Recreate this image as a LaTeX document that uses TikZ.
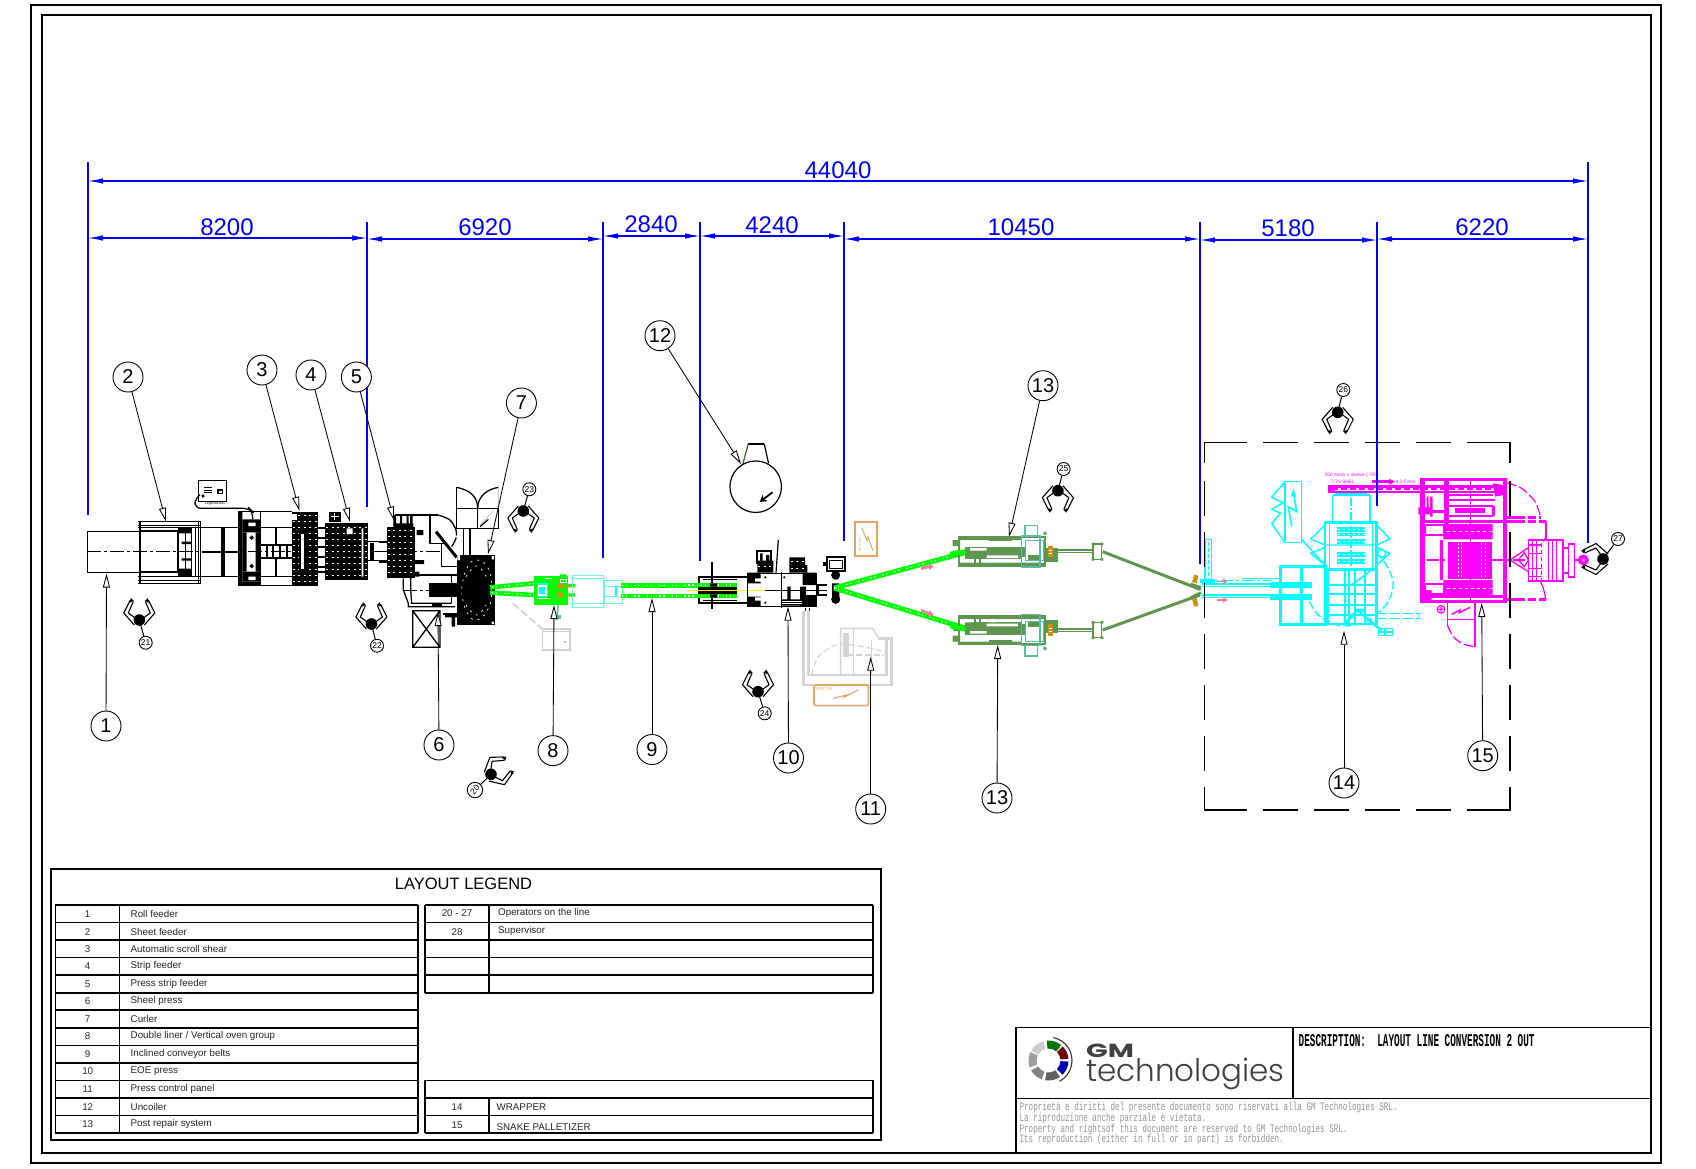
\documentclass[tikz,border=0pt]{standalone}
\usepackage{fontspec}
\setmainfont{Liberation Sans}
\newfontfamily\cadfont{Liberation Mono}
\newfontfamily\logofont{Poppins}
\newfontfamily\logolight{Poppins Light}
\usetikzlibrary{arrows.meta,calc}
\definecolor{dimblue}{RGB}{0,0,255}
\definecolor{lgreen}{RGB}{0,255,0}
\definecolor{ogreen}{RGB}{94,150,80}
\definecolor{tealc}{RGB}{95,185,165}
\definecolor{cyanc}{RGB}{0,255,255}
\definecolor{magc}{RGB}{255,0,255}
\definecolor{aquac}{RGB}{110,250,205}
\definecolor{orangec}{RGB}{225,165,100}
\definecolor{goldc}{RGB}{205,145,20}
\definecolor{pinkc}{RGB}{250,120,150}
\definecolor{panelg}{RGB}{212,212,212}
\tikzset{
  z/.style n args={2}{shift={(#1,#2)},x=0.33333pt,y=-0.33333pt},
  balloon/.style={circle,draw=black,fill=white,line width=0.9pt,minimum size=30pt,inner sep=0pt,font=\fontsize{20}{20}\selectfont},
  opballoon/.style={circle,draw=black,fill=white,line width=0.9pt,minimum size=13pt,inner sep=0pt,font=\fontsize{8.5}{8.5}\selectfont},
  leader/.style={draw=black,line width=0.85pt,-{Triangle[fill=white,length=14pt,width=7pt,line width=0.85pt]}},
  dimarrow/.style={draw=dimblue,line width=1.1pt,{Latex[length=15pt,width=5.5pt]}-{Latex[length=15pt,width=5.5pt]}},
  dimext/.style={draw=dimblue,line width=1.1pt},
  dimtext/.style={text=dimblue,font=\fontsize{24}{24}\selectfont,inner sep=0pt},
  tline/.style={draw=black,line width=1.6pt},
  ttext/.style={font=\fontsize{9.8}{9.8}\selectfont,inner sep=0pt,anchor=west,text=black!85},
  tnum/.style={font=\fontsize{9.8}{9.8}\selectfont,inner sep=0pt,text=black!85},
  blk/.style={draw=black,line width=1pt},
  blkt/.style={draw=black,line width=2pt},
  slot/.style={draw=white,line width=0.9pt,dash pattern=on 2pt off 3.5pt},
  centerl/.style={line width=1pt,dash pattern=on 14pt off 3pt on 3pt off 3pt},
  belt/.style={draw=lgreen,line width=4.6pt},
  beltdots/.style={draw=white,line width=1.2pt,dash pattern=on 1.5pt off 2.5pt on 1.5pt off 7pt},
  cy/.style={draw=cyanc,line width=1.3pt},
  cyt/.style={draw=cyanc,line width=2.6pt},
  mg/.style={draw=magc,line width=1.1pt},
  mgt/.style={draw=magc,line width=2.4pt},
  og/.style={draw=ogreen,line width=1.2pt},
  ogt/.style={draw=ogreen,line width=3pt},
  oper/.style={draw=black,line width=1.1pt,line join=round},
}
\newcommand{\opfigure}[3]{%
 \begin{scope}[shift={(#1,#2)},rotate=#3]
  \fill[black] (0,0) circle (5.8pt);
  \draw[oper] (-5,5) -- (-15.5,-7) -- (-9,-20);
  \draw[oper] (-4,-2) -- (-11,-7) -- (-6,-18.5);
  \draw[oper] (5,5) -- (15.5,-7) -- (9,-20);
  \draw[oper] (4,-2) -- (11,-7) -- (6,-18.5);
  \fill[black] (-8.5,-22) -- (-5.5,-19) -- (-9.5,-17.5) -- cycle;
  \fill[black] (8.5,-22) -- (5.5,-19) -- (9.5,-17.5) -- cycle;
 \end{scope}}
\newcommand{\densebox}[4]{%
 \fill[black] (#1,#2) rectangle (#3,#4);
 \pgfmathsetmacro{\dya}{#2+12}\pgfmathsetmacro{\dyb}{#2+30}\pgfmathsetmacro{\dyc}{#4-6}
 \foreach \yy in {\dya,\dyb,...,\dyc} \draw[slot] (#1+3,\yy) -- (#3-3,\yy);}
\begin{document}
\begin{tikzpicture}[x=1pt,y=-1pt,line cap=butt]
\useasboundingbox (0,0) rectangle (1696,1168);
\fill[white] (0,0) rectangle (1696,1168);
\draw[black,line width=1.8pt] (31,5) rectangle (1661,1163);
\draw[black,line width=1.6pt] (42,15) rectangle (1651,1153);

\begin{scope}[z={80}{470}]
 \draw[blk] (22,183) rectangle (178,306);
 \foreach \yy in {155,165,172,320,330,340} \draw[blk] (175,\yy) -- (362,\yy);
 \draw[blkt] (180,155) -- (180,340);
 \draw[blkt] (181,183) rectangle (295,306);
 \draw[blk] (295,172) rectangle (335,318);
 \draw[blk] (315,172) -- (315,318);
 \draw[blk] (335,172) -- (335,318) (347,172) -- (347,318);
 \draw[blk] (355,155) -- (355,340) (362,155) -- (362,340);
 \fill[black] (295,172) rectangle (335,190) (295,296) rectangle (335,318);
 \fill[black] (305,215) rectangle (335,222) (305,265) rectangle (335,272);
 \draw[blk] (362,172) -- (485,172) (362,318) -- (485,318);
 \draw[blkt] (425,172) -- (425,318) (433,172) -- (433,318);
 \draw[blk] (475,125) rectangle (540,345);
 \fill[black] (475,125) rectangle (487,345) (475,335) rectangle (540,347);
 \fill[black] (487,148) rectangle (540,187) (487,305) rectangle (540,335);
 \fill[white] (505,158) rectangle (527,168) (505,320) rectangle (527,330);
 \fill[black] (487,187) rectangle (500,305) (527,187) rectangle (540,305);
 \fill[black] (508,203) -- (515,196) -- (522,203) -- (515,210) -- cycle (508,288) -- (515,281) -- (522,288) -- (515,295) -- cycle;
 \draw[blk] (475,125) -- (635,125);
 \draw[blk] (540,172) -- (635,172) (540,345) -- (635,345);
 \draw[blkt] (542,225) -- (635,225) (542,265) -- (635,265);
 \draw[blkt] (587,172) -- (587,225) (587,265) -- (587,318);
 \draw[blk] (540,318) -- (635,318);
 \foreach \xx in {560,580,600,620} \draw[blkt] (\xx,225) -- (\xx,265);
 \draw[black,centerl] (22,245) -- (635,245);
 \draw[blkt] (365,245) -- (480,245);
 \densebox{635}{125}{715}{348}
 \fill[white] (632,133) rectangle (652,150);
 \fill[white] (662,190) rectangle (672,300);
 \draw[blkt] (660,190) rectangle (674,300);
 \foreach \yy in {175,205,232,262,290,305} \draw[blkt] (715,\yy) -- (738,\yy);
 \densebox{735}{160}{865}{330}
 \fill[black] (747,125) rectangle (782,155);
 \draw[white,line width=1.4pt] (764,130) -- (764,150) (752,140) -- (776,140);
 \fill[white] (800,175) rectangle (818,192) (845,175) rectangle (850,320);
 \draw[blk] (865,215) -- (920,215) (865,272) -- (920,272);
 \draw[blkt] (872,222) rectangle (878,268);
 \draw[black,centerl] (878,245) -- (920,245);
 \draw[blk,line width=1.2pt] (355,32) rectangle (440,95);
 \draw[black,line width=1.2pt,line join=round,rounded corners=6pt] (355,78) -- (345,85) -- (345,115) -- (508,115) -- (518,125) -- (518,148);
 \draw[black,line width=1pt] (372,52) -- (396,52) (372,60) -- (396,60) (372,66) -- (396,66);
 \draw[blk,line width=1.2pt] (414,60) rectangle (428,70);
 \fill[black] (369,72) -- (374,78) -- (369,84) -- (364,78) -- cycle;
 \node[font=\fontsize{3.5}{3.5}\selectfont,inner sep=0pt] (boxlabel) at (405,102) {Legenda box};
\end{scope}

\begin{scope}[z={380}{480}]
 \densebox{20}{140}{105}{295}
 \fill[black] (40,130) rectangle (100,145) (110,150) rectangle (130,165) (105,240) rectangle (132,252) (105,275) rectangle (118,290);
 \fill[black] (40,105) rectangle (48,135) (60,105) rectangle (66,135) (80,105) rectangle (86,135) (90,105) rectangle (98,135);
 \draw[blkt] (-2,185) -- (20,185) (-2,245) -- (20,245);
 \draw[blk,line width=1.3pt] (45,105) -- (175,105);
 \draw[black,line width=1.3pt,dash pattern=on 30pt off 2pt] plot[smooth] coordinates {(175,105) (210,120) (228,150) (228,175) (215,200)};
 \draw[blk,line width=1.3pt] (150,105) -- (150,190) -- (200,190);
 \draw[black,line width=3pt] (168,155) -- (230,232);
 \draw[blk,line width=1.3pt] (185,190) -- (185,260) -- (230,260);
 \draw[black,centerl] (0,215) -- (185,215);
 \draw[blk,line width=1.3pt] (100,285) -- (230,285);
 \draw[black,line width=1.3pt] (70,295) -- (70,330) -- (85,370) -- (85,380) -- (225,380);
 \draw[black,line width=1.3pt] (92,285) -- (92,330) -- (95,370) -- (215,370);
 \draw[black,centerl] (70,330) -- (150,330);
 \fill[black] (148,308) rectangle (240,350);
 \draw[blk,line width=1.3pt] (215,285) -- (215,370);
 \fill[black] (155,368) rectangle (185,382);
 \draw[blk,line width=1.3pt] (98,392) rectangle (180,502) (98,392) -- (180,502) (180,392) -- (98,502);
 \draw[blk,line width=1.3pt] (190,402) -- (232,402);
 \fill[black] (195,402) rectangle (232,412) (215,412) rectangle (225,440);
 \fill[black] (232,225) rectangle (345,435);
 \fill[white] (232,225) rectangle (240,240) (335,228) rectangle (342,238) (335,425) rectangle (342,432);
 \draw[white,line width=0.7pt,dash pattern=on 2pt off 5pt] plot[smooth,tension=0.8] coordinates {(245,325) (260,265) (290,240) (325,265) (335,325) (325,385) (290,420) (260,395) (245,340)};
 \draw[white,line width=0.7pt,dash pattern=on 2pt off 5pt] plot[smooth,tension=0.8] coordinates {(258,290) (290,258) (318,290)};
 \draw[white,line width=0.7pt,dash pattern=on 2pt off 5pt] plot[smooth,tension=0.8] coordinates {(258,375) (290,405) (318,375)};
 \draw[blk,line width=1.3pt] (230,85) rectangle (355,145);
 \draw[blk,line width=1.3pt] (293,85) -- (293,145) (230,22) -- (230,85);
 \draw[blk,line width=1.3pt] (230,22) .. controls (270,30) and (293,50) .. (293,85);
 \draw[blk,line width=1.3pt] (355,22) .. controls (320,28) and (293,50) .. (293,85);
 \draw[draw=black!20,line width=1pt] (355,25) -- (355,85) (300,135) -- (340,92);
 \draw[blk,line width=1.2pt] (300,140) -- (325,118);
 \draw[blk,line width=1.2pt] (250,145) -- (250,225) (270,145) -- (270,225);
 \draw[draw=black!18,line width=1.6pt,dash pattern=on 8pt off 3pt] (398,370) -- (487,447);
 \draw[draw=black!18,line width=1.4pt] (487,447) rectangle (570,510) (487,455) -- (570,455);
 \fill[black!25] (552,482) rectangle (558,490);
 \draw[belt] (330,322) -- (462,310);
 \draw[belt] (330,338) -- (462,345);
 \draw[beltdots] (335,322) -- (462,310);
 \draw[beltdots] (335,338) -- (462,345);
 \fill[lgreen] (462,288) rectangle (565,375);
 \fill[lgreen] (565,312) rectangle (585,322) (565,340) rectangle (585,350) (540,283) rectangle (560,290);
 \fill[cyanc] (470,310) rectangle (505,352);
 \draw[white,line width=1.3pt] (476,318) rectangle (498,345);
 \draw[white,line width=1pt] (495,295) -- (515,295) (540,298) rectangle (558,308) (470,355) -- (510,355);
 \fill[goldc] (540,318) circle (3.2pt) (540,345) circle (3.2pt);
 \fill[orange] (553,318) circle (1.6pt) (567,318) circle (1.6pt);
 \fill[red] (508,352) circle (0.8pt);
 \draw[draw=tealc,line width=1.5pt] (535,375) -- (530,420);
 \fill[tealc] (522,405) rectangle (542,418);
 \draw[draw=aquac,line width=1pt] (578,285) rectangle (670,381) (578,296) -- (670,296) (578,370) -- (670,370);
 \draw[draw=aquac,line width=1pt] (672,300) rectangle (728,370) (672,320) -- (728,320) (672,348) -- (728,348);
 \fill[cyanc] (705,318) rectangle (711,348);
 \draw[belt] (722,316) -- (1071,316);
 \draw[belt] (722,348) -- (1071,348);
 \draw[beltdots] (725,316) -- (1071,316);
 \draw[beltdots] (725,348) -- (1071,348);
\end{scope}

\begin{scope}[z={690}{540}]
 \draw[blkt] (28,110) rectangle (170,190);
 \fill[black] (28,128) rectangle (140,175);
 \draw[blk] (40,118) -- (140,118) (40,182) -- (140,182);
 \draw[blk,line width=1.2pt] (66,65) -- (66,207);
 \draw[belt] (-10,135) -- (140,135);
 \draw[belt] (-10,168) -- (140,168);
 \draw[beltdots] (-5,135) -- (140,135);
 \draw[beltdots] (-5,168) -- (140,168);
 \fill[black] (60,130) rectangle (82,140) (60,163) rectangle (82,173);
 \draw[draw=yellow,line width=1.3pt] (-5,151) -- (225,151);
 \fill[white] (140,115) rectangle (170,185);
 \draw[draw=yellow,line width=1.3pt] (140,151) -- (225,151);
 \draw[blk,line width=1.3pt] (172,100) rectangle (380,200);
 \draw[blk,line width=1.3pt] (225,151) -- (410,151);
 \fill[black] (172,98) rectangle (212,130) (172,170) rectangle (212,200) (338,98) rectangle (378,135) (338,165) rectangle (378,200);
 \fill[white] (195,115) rectangle (215,125) (195,172) rectangle (215,182);
 \draw[blk,line width=1.2pt] (275,95) -- (275,205);
 \fill[black] (292,140) rectangle (302,180) (330,140) rectangle (348,200) (275,178) rectangle (340,197);
 \draw[white,line width=0.8pt] (277,184) -- (335,184) (277,190) -- (335,190);
 \draw[blk] (345,205) -- (345,212) (358,205) -- (358,212);
 \fill[black] (226,112) circle (1.2pt) (226,188) circle (1.2pt) (283,112) circle (1.2pt);
 \fill[black] (202,62) rectangle (250,98) (298,75) rectangle (352,98);
 \draw[blkt] (202,32) rectangle (242,70);
 \fill[black] (210,40) rectangle (218,70) (228,45) rectangle (238,70) (298,52) rectangle (345,80);
 \draw[slot] (205,80) -- (248,80);
 \draw[slot] (302,65) -- (342,65);
 \draw[slot] (302,85) -- (350,85);
 \draw[blk,line width=1.3pt] (380,135) -- (412,135) (380,165) -- (412,165) (384,135) -- (384,165);
 \draw[blkt] (410,52) rectangle (465,92);
 \draw[blk] (418,60) rectangle (458,84);
 \fill[black] (398,65) rectangle (410,78);
 \fill[black] (431,92) rectangle (444,118) (426,130) rectangle (448,185);
 \fill[black] (437,105) circle (4.5pt) (437,178) circle (4.5pt);
 \draw[blk,line width=1.2pt] (265,0) -- (258,98);
\end{scope}

\begin{scope}[shift={(600,300)},x=0.35714pt,y=-0.33333pt]
 \draw[draw=black,line width=1.2pt] (460,432) -- (472,490);
 \draw[draw=black,line width=1.2pt] (415,432) -- (460,432);
 \draw[draw=ogreen!60!black,line width=1.2pt] (415,432) -- (400,492);
\end{scope}
\node[circle,draw=black,line width=1.2pt,minimum size=51.5pt,inner sep=0pt] (coil) at (755.7,486.7) {};
\draw[black,line width=1.8pt,-{Stealth[length=7pt,width=8pt]}] (772.5,492.3) -- (759.6,502);

\coordinate (cvs) at (834,588);
\coordinate (cvt) at (966,552.3);
\coordinate (cvb) at (966,628.3);
\draw[belt,line width=5pt] (cvs) -- (cvt);
\draw[belt,line width=5pt] (cvs) -- (cvb);
\draw[beltdots] (cvs) -- (cvt);
\draw[beltdots] (cvs) -- (cvb);
\fill[pinkc] (921,566.5) -- (929,565.5) -- (928,563.5) -- (934,566.5) -- (929,570) -- (929,568) -- (921,570) -- cycle;
\fill[pinkc] (921,609) -- (929,612) -- (929,610) -- (934,615) -- (928,616) -- (928,614) -- (921,611.5) -- cycle;
\draw[draw=orangec,line width=1.5pt] (855,522) rectangle (877,556);
\draw[draw=orangec,line width=0.9pt] (862,528) -- (867,541) -- (868,537) -- (873,551);
\node[font=\fontsize{3.5}{3.5}\selectfont,text=orangec,rotate=90,inner sep=0pt] (orA) at (860,545) {ROX OK};

\begin{scope}[z={690}{540}]
 \draw[draw=panelg,line width=2.4pt] (340,212) -- (340,435) -- (605,435) -- (605,295) -- (565,295);
 \draw[draw=panelg,line width=2.4pt] (355,212) -- (355,405) -- (590,405) -- (590,300);
 \draw[draw=panelg,line width=1.4pt] (452,265) -- (548,265) -- (570,300) (452,265) -- (452,405);
 \draw[draw=panelg,line width=1.2pt] (490,265) -- (490,405) (545,300) -- (545,405);
 \fill[panelg] (458,280) rectangle (478,350);
 \draw[draw=panelg,line width=1.2pt,dash pattern=on 6pt off 3pt] plot[smooth] coordinates {(365,405) (385,350) (440,315) (520,320) (590,338)};
 \draw[draw=panelg,line width=1.2pt,dash pattern=on 6pt off 3pt] (470,345) -- (580,345);
 \draw[draw=orangec,line width=1.6pt,rounded corners=2pt] (372,435) rectangle (535,497);
 \draw[draw=orangec,line width=1.2pt] (430,475) -- (470,465) -- (465,470) -- (505,450);
 \node[font=\fontsize{4.5}{4.5}\selectfont,text=orangec,inner sep=0pt] (orB) at (403,446) {ROX OK};
\end{scope}

\begin{scope}[z={950}{520}]
 \foreach \mirror in {0,1}{
  \pgfmathsetmacro{\sgn}{\mirror==0 ? 1 : -1}
  \pgfmathsetmacro{\off}{\mirror==0 ? 0 : 425}
  \begin{scope}[shift={(0,\off)},yscale=\sgn]
   \draw[og,line width=1.8pt] (28,52) rectangle (285,137);
   \fill[ogreen] (8,60) rectangle (30,78) (10,92) rectangle (30,110);
   \fill[ogreen] (45,80) rectangle (215,118);
   \fill[ogreen] (28,52) rectangle (215,60) (28,128) rectangle (285,137);
   \fill[white] (60,84) rectangle (110,92) (110,106) rectangle (205,114) (95,122) rectangle (110,127);
   \fill[ogreen] (205,80) rectangle (225,112);
   \fill[white] (38,62) rectangle (115,70) (125,62) rectangle (200,70) (40,118) rectangle (70,126) (120,118) rectangle (135,126);
   \draw[og] (118,52) rectangle (185,62);
   \draw[og,line width=1.4pt] (75,100) rectangle (90,137);
   \fill[ogreen] (235,105) rectangle (270,120);
   \fill[ogreen] (285,85) rectangle (325,125);
   \draw[draw=tealc,line width=1.4pt] (215,48) rectangle (270,141);
   \draw[draw=tealc,line width=1pt] (225,62) rectangle (280,122);
   \draw[draw=tealc,line width=1.3pt] (225,17) rectangle (262,48);
   \fill[tealc] (285,40) circle (2pt);
   \fill[goldc] (293,78) rectangle (310,112);
   \draw[white,line width=0.6pt] (296,90) -- (307,90) (296,100) -- (307,100);
   \draw[draw=ogreen,line width=1.3pt] (325,90) -- (425,90) (325,98) -- (425,98);
   \draw[og,line width=1.5pt] (429,72) rectangle (455,118);
   \fill[ogreen] (425,68) rectangle (433,76) (452,68) rectangle (460,76) (425,114) rectangle (433,122) (452,114) rectangle (460,122);
  \end{scope}}
 \draw[ogt] (458,95) -- (750,208);
 \draw[ogt] (458,330) -- (750,225);
 \fill[goldc] (733,163) -- (745,168) -- (740,190) -- (726,186) -- cycle;
 \fill[goldc] (726,238) -- (740,234) -- (745,258) -- (733,260) -- cycle;
 \fill[ogreen] (722,188) -- (752,198) -- (755,210) -- (722,200) -- cycle;
 \fill[ogreen] (722,228) -- (752,214) -- (755,222) -- (722,238) -- cycle;
 \fill[lgreen] (0,95) -- (45,88) -- (48,100) -- (0,113) -- cycle;
 \fill[lgreen] (0,308) -- (48,325) -- (45,335) -- (0,325) -- cycle;
\end{scope}

\begin{scope}[z={1270}{470}]
 \draw[cy,line width=1.4pt,line join=round] (45,35) -- (95,35) -- (95,218) -- (45,218) -- cycle;
 \draw[cy,line width=1.4pt,line join=round] (45,35) -- (5,82) -- (40,98) -- (5,118) -- (32,130) -- (5,160) -- (45,218);
 \draw[cy,line width=1.6pt] (65,170) -- (55,110) -- (80,125) -- (70,65);
 \fill[cyanc] (70,55) -- (62,80) -- (78,80) -- cycle;
 \draw[cy,line width=1.4pt] (95,208) -- (165,285);
 \draw[cyt,line width=1.6pt] (188,75) -- (188,155) (300,75) -- (300,155) (188,75) -- (300,75);
 \draw[cyanc,line width=3pt] (195,68) -- (292,68);
 \draw[cy,dash pattern=on 8pt off 2pt on 2pt off 2pt] (243,85) -- (243,300);
 \draw[cyt] (165,157) rectangle (320,298);
 \draw[cy,line width=1.4pt] (178,157) -- (178,298) (308,157) -- (308,298);
 \draw[cy,line width=1.4pt,line join=round] (165,165) -- (122,207) -- (165,225) -- (320,225) -- (360,207) -- (320,165);
 \draw[cy,line width=1.4pt,line join=round] (165,232) -- (122,250) -- (165,285);
 \draw[cy,line width=1.4pt,line join=round] (320,232) -- (360,250) -- (320,285);
 \draw[cy] (335,250) circle (4pt);
 \foreach \ya/\yb in {172/185,190/198,208/222,247/260,268/282}{
   \fill[cyanc] (200,\ya) rectangle (285,\yb);
   \draw[white,line width=0.7pt,dash pattern=on 2pt off 3pt] (205,{(\ya+\yb)/2}) -- (285,{(\ya+\yb)/2});}
 \draw[cyt,line width=3pt] (32,290) rectangle (165,462);
 \draw[cyt,line width=3pt] (95,290) -- (95,462);
 \draw[cyanc,line width=4.5pt] (170,295) -- (170,465);
 \draw[cyt] (165,297) -- (320,297) (320,297) -- (320,465) (32,462) -- (320,462);
 \foreach \yy in {345,372,405,435} \draw[cyanc,line width=2.8pt] (165,\yy) -- (320,\yy);
 \foreach \xx in {225,238,255,285} \draw[cyanc,line width=2.2pt] (\xx,297) -- (\xx,462);
 \draw[cyanc,line width=3pt] (0,340) -- (125,340) (0,350) -- (125,350) (0,377) -- (125,377) (0,385) -- (125,385);
 \draw[cyanc,line width=1.4pt] (-85,325) -- (35,325);
 \draw[cy,dash pattern=on 8pt off 3pt] plot[smooth] coordinates {(320,248) (352,290) (370,340) (355,395) (320,432)};
 \draw[cy,dash pattern=on 8pt off 3pt] plot[smooth] coordinates {(118,395) (140,430) (170,452) (215,468) (270,462) (320,440)};
 \draw[cy,line width=1.6pt] (245,345) -- (305,300);
 \draw[cyanc,line width=2.6pt] (262,420) -- (335,482) (225,462) -- (262,420) -- (285,420);
 \draw[cy,line width=1.5pt] (325,475) rectangle (368,497) (325,486) -- (368,486) (345,475) -- (345,497);
 \draw[cy,line width=1.4pt,dash pattern=on 10pt off 3pt] (320,430) -- (450,430) (320,445) -- (450,445);
 \draw[cy] (445,428) -- (445,447);
\end{scope}
\begin{scope}[z={1160}{380}]
 \draw[cyanc,line width=1.5pt] (135,478) -- (155,478) -- (155,600) (135,478) -- (135,600);
 \draw[cyanc,line width=1pt,dash pattern=on 4pt off 2pt] (145,485) -- (145,600);
 \draw[cy,dash pattern=on 12pt off 3pt on 3pt off 3pt] (120,602) -- (335,602);
 \draw[cyanc,line width=1.3pt] (125,612) -- (345,612) (125,620) -- (345,620) (125,645) -- (360,645) (125,653) -- (360,653);
 \fill[cyanc] (120,596) rectangle (165,608);
 \foreach \yy in {604,660}
  \draw[draw=pinkc,line width=1.2pt,-{Stealth[length=5pt,width=6pt]}] (172,\yy) -- (203,\yy);
\end{scope}

\begin{scope}[z={1160}{380}]
 \draw[mgt] (515,320) -- (1020,320) (515,336) -- (1020,336);
 \draw[magc,line width=1.2pt,dash pattern=on 6pt off 3pt] (515,327) -- (1020,327);
 \fill[magc] (505,316) rectangle (525,338);
 \fill[magc] (635,300) rectangle (690,310);
 \fill[magc] (688,296) -- (706,305) -- (688,314) -- cycle;
 \node[font=\fontsize{4.8}{4.8}\selectfont,text=magc,inner sep=0pt] (pa) at (575,285) {200 mm/s x sleeve (~700)};
 \node[font=\fontsize{4.8}{4.8}\selectfont,text=magc,inner sep=0pt] (pb) at (549,305) {7,75 SHEL};
 \node[font=\fontsize{4.8}{4.8}\selectfont,text=magc,inner sep=0pt] (pc) at (737,305) {4,2 F.min};
 \fill[magc] (780,293) rectangle (795,670);
 \draw[mgt,line width=3pt] (780,297) -- (1042,297) (780,664) -- (1042,664);
 \fill[magc] (1030,293) rectangle (1040,668);
 \draw[mgt] (855,293) -- (855,432) (863,293) -- (863,432);
 \draw[mg,line width=1.4pt] (932,297) -- (932,664);
 \draw[mgt] (863,345) -- (1000,345) (863,360) -- (1005,360) (863,378) -- (1000,378) (863,408) -- (1000,408);
 \fill[magc] (885,385) rectangle (975,400);
 \draw[mgt] (1000,378) -- (1000,408);
 \fill[magc] (998,310) -- (1030,315) -- (1030,345) -- (1005,350) -- cycle;
 \fill[magc] (775,382) rectangle (815,403) (800,350) rectangle (806,385) (810,350) rectangle (818,410) (795,630) rectangle (815,660);
 \draw[mgt] (795,395) -- (860,395);
 \draw[mg,line width=1.5pt] (795,435) rectangle (850,465) (795,612) rectangle (850,642);
 \draw[mgt,line width=3pt] (843,480) -- (843,600);
 \draw[mgt] (795,425) -- (1030,425) (795,650) -- (1030,650);
 \fill[magc] (850,432) rectangle (998,478) (850,600) rectangle (998,645);
 \fill[magc] (865,485) rectangle (995,597);
 \foreach \xx in {895,905,965,975}
   \draw[white,line width=0.8pt,dash pattern=on 1.5pt off 2.5pt] (\xx,490) -- (\xx,595);
 \draw[white,line width=0.8pt,dash pattern=on 3pt off 3pt] (860,455) -- (995,455) (860,625) -- (995,625);
 \draw[mg,line width=1.2pt,dash pattern=on 12pt off 3pt on 3pt off 3pt] (800,540) -- (865,540) (995,540) -- (1105,540);
 \draw[mg,line width=1.2pt,dash pattern=on 10pt off 3pt] plot[smooth] coordinates {(1040,308) (1085,325) (1125,365) (1142,412)};
 \draw[mgt,dash pattern=on 18pt off 3pt on 8pt off 3pt] (1042,412) -- (1142,412) (1042,424) -- (1158,424) (1042,658) -- (1158,658);
 \draw[mg,line width=1.2pt] (1158,424) -- (1158,480);
 \draw[mg,line width=1.2pt] plot[smooth] coordinates {(1158,658) (1150,625) (1140,603)};
 \draw[mg,line width=1.2pt] plot[smooth] coordinates {(1158,470) (1150,485)};
 \draw[mg,line width=1.3pt] (1050,540) -- (1105,503) (1050,540) -- (1105,575) (1075,540) -- (1093,518) -- (1105,540) -- (1093,560) -- cycle;
 \draw[mg,line width=1.7pt] (1105,480) rectangle (1208,603);
 \foreach \xx in {1118,1130,1165,1178,1190} \draw[mg,line width=1.6pt] (\xx,480) -- (\xx,603);
 \draw[mg,line width=1.5pt] (1105,495) -- (1145,495) (1105,590) -- (1145,590) (1105,520) -- (1145,520) (1105,565) -- (1145,565);
 \draw[mg,dash pattern=on 4pt off 3pt] (1145,490) -- (1145,600);
 \draw[mg,line width=1.7pt] (1208,505) rectangle (1225,580) (1225,492) rectangle (1243,590);
 \draw[mgt] (1243,540) -- (1262,540);
 \fill[magc] (1270,540) circle (5.5pt);
 \fill[white] (1270,540) circle (1.5pt);
 \draw[mg,line width=1.3pt] (862,668) -- (862,735);
 \draw[mg,line width=1.3pt,dash pattern=on 10pt off 3pt] plot[smooth] coordinates {(862,735) (880,770) (910,792) (945,800)};
 \draw[mg,line width=1.3pt] (945,800) -- (945,668) (862,718) -- (945,718);
 \draw[mg,line width=1.5pt] (875,703) -- (900,690) -- (898,698) -- (930,682);
 \draw[mg,line width=1.2pt] (843,688) circle (3.8pt) (836,688) -- (850,688) (843,681) -- (843,695);
\end{scope}

\begin{scope}[draw=black,line width=1.6pt]
 \draw (1204.3,463) -- (1204.3,442.3) -- (1247,442.3);
 \draw (1467,442.3) -- (1510,442.3) -- (1510,463);
 \draw (1204.3,787) -- (1204.3,810) -- (1247,810);
 \draw (1467,810) -- (1510,810) -- (1510,787);
 \foreach \xx in {1263,1314,1365,1416} {\draw (\xx,442.3) -- (\xx+35,442.3); \draw (\xx,810) -- (\xx+35,810);}
 \foreach \yy in {481,532,583,634,685,736} {\draw (1204.3,\yy) -- (1204.3,\yy+35); \draw (1510,\yy) -- (1510,\yy+35);}
\end{scope}

\coordinate (d0t) at (88,162);   \coordinate (d0b) at (88,515);
\coordinate (d1t) at (367,222);  \coordinate (d1b) at (367,507);
\coordinate (d2t) at (603,222);  \coordinate (d2b) at (603,558);
\coordinate (d3t) at (700,222);  \coordinate (d3b) at (700,561);
\coordinate (d4t) at (844,222);  \coordinate (d4b) at (844,541);
\coordinate (d5t) at (1200,222); \coordinate (d5b) at (1200,564);
\coordinate (d6t) at (1377,222); \coordinate (d6b) at (1377,506);
\coordinate (d7t) at (1588,162); \coordinate (d7b) at (1588,543);
\foreach \i in {0,...,7} \draw[dimext] (d\i t) -- (d\i b);
\coordinate (tl) at (88,181);   \coordinate (tr) at (1588,181);
\draw[dimarrow] (tl) -- (tr);
\draw[dimarrow] (88,238) -- (367,238);
\draw[dimarrow] (367,239) -- (603,239);
\draw[dimarrow] (603,236) -- (700,236);
\draw[dimarrow] (700,236) -- (844,236);
\draw[dimarrow] (844,239) -- (1200,239);
\draw[dimarrow] (1200,240) -- (1377,240);
\draw[dimarrow] (1377,239) -- (1588,239);
\node[dimtext] (tot) at (838,170) {44040};
\node[dimtext] (da) at (227,227) {8200};
\node[dimtext] (db) at (485,227) {6920};
\node[dimtext] (dc) at (651,224) {2840};
\node[dimtext] (dd) at (772,225) {4240};
\node[dimtext] (de) at (1021,227) {10450};
\node[dimtext] (df) at (1288,228) {5180};
\node[dimtext] (dg) at (1482,227) {6220};

\opfigure{139.3}{620}{0}
\opfigure{371.4}{624}{0}
\opfigure{523.3}{511}{180}
\opfigure{758}{691.7}{0}
\opfigure{1057.9}{490.7}{180}
\opfigure{1337.7}{412.3}{180}
\opfigure{1603}{559}{90}
\opfigure{491}{774.3}{-62}
\node[opballoon] (o20) at (475,790) {\rotatebox{50}{20}};
\node[opballoon] (o21) at (145.7,642.7) {21};
\node[opballoon] (o22) at (377,645.7) {22};
\node[opballoon] (o23) at (529.3,489.3) {23};
\node[opballoon] (o24) at (764.7,713.3) {24};
\node[opballoon] (o25) at (1063.6,469) {25};
\node[opballoon] (o26) at (1343.3,390) {26};
\node[opballoon] (o27) at (1618,539) {27};
\coordinate (p20) at (491,774.3); \coordinate (p21) at (139.3,620); \coordinate (p22) at (371.4,624);
\coordinate (p23) at (523.3,511); \coordinate (p24) at (758,691.7); \coordinate (p25) at (1057.9,490.7);
\coordinate (p26) at (1337.7,412.3); \coordinate (p27) at (1603,559);
\foreach \i in {20,...,27} \draw[black,line width=1pt] (o\i) -- (p\i);

\node[balloon] (b1) at (106,726) {1};
\node[balloon] (b2) at (128,377) {2};
\node[balloon] (b3) at (262,370) {3};
\node[balloon] (b4) at (311,375) {4};
\node[balloon] (b5) at (356.4,377) {5};
\node[balloon] (b6) at (439,745) {6};
\node[balloon] (b7) at (521.4,403) {7};
\node[balloon] (b8) at (553,750.6) {8};
\node[balloon] (b9) at (652,749.5) {9};
\node[balloon] (b10) at (788.5,758) {10};
\node[balloon] (b11) at (870.7,809) {11};
\node[balloon] (b12) at (660,335.7) {12};
\node[balloon] (b13) at (1043,385.7) {13};
\node[balloon] (b13b) at (997,798) {13};
\node[balloon] (b14) at (1344,783) {14};
\node[balloon] (b15) at (1482.7,755.7) {15};
\coordinate (t1) at (106.5,573.5);
\coordinate (t2) at (166,521.7);
\coordinate (t3) at (299.3,510.7);
\coordinate (t4) at (350,521.7);
\coordinate (t5) at (394,520.5);
\coordinate (t6) at (438,612);
\coordinate (t7) at (488,554);
\coordinate (t8) at (554,605);
\coordinate (t9) at (652,598);
\coordinate (t10) at (788,606.7);
\coordinate (t11) at (870.7,656.7);
\coordinate (t12) at (741,464);
\coordinate (t13) at (1009,536.7);
\coordinate (t13b) at (997.7,645);
\coordinate (t14) at (1344,630.7);
\coordinate (t15) at (1481.7,603);
\foreach \i in {1,2,3,4,5,6,7,8,9,10,11,12,13,13b,14,15} \draw[leader] (b\i) -- (t\i);

\draw[black,line width=1.6pt] (51,869) rectangle (881,1140);
\node[font=\fontsize{16.5}{16.5}\selectfont,inner sep=0pt] (ltitle) at (463.5,884) {LAYOUT LEGEND};
\foreach \yy in {905,922.5,940,957.6,975.1,992.7,1010.2,1027.8,1045.3,1062.9,1080.4,1098,1115.5,1133}
  \draw[tline] (55.4,\yy) -- (418,\yy);
\draw[tline] (55.4,905) -- (55.4,1133) (119.5,905) -- (119.5,1133) (418,905) -- (418,1133);
\foreach \yy in {905,922.5,940,957.6,975.1,992.7,1080.4,1098,1115.5,1133}
  \draw[tline] (425,\yy) -- (872.7,\yy);
\draw[tline] (425,905) -- (425,992.7) (488.7,905) -- (488.7,992.7) (872.7,905) -- (872.7,992.7);
\draw[tline] (425,1080.4) -- (425,1133) (872.7,1080.4) -- (872.7,1133) (488.7,1098) -- (488.7,1133);
\foreach \n/\tx/\yy in {1/Roll feeder/913.7,2/Sheet feeder/931.7,3/Automatic scroll shear/949,4/Strip feeder/966,5/Press strip feeder/983.7,6/Sheel press/1001.3,7/Curler/1019.3,8/Double liner \slash\ Vertical oven group/1036,9/Inclined conveyor belts/1053.7,10/EOE press/1071.3,11/Press control panel/1088.7,12/Uncoiler/1107,13/Post repair system/1124}{
  \node[tnum] (ln\n) at (87.7,\yy) {\n};
  \node[ttext] (lt\n) at (130.5,\yy) {\tx};}
\node[tnum] (rn1) at (457,913.3) {20 - 27};
\node[ttext] (rt1) at (498,913.3) {Operators on the line};
\node[tnum] (rn2) at (457,931.7) {28};
\node[ttext] (rt2) at (498,930.7) {Supervisor};
\node[tnum] (rn3) at (457,1107) {14};
\node[ttext] (rt3) at (496.4,1107) {WRAPPER};
\node[tnum] (rn4) at (457,1125) {15};
\node[ttext] (rt4) at (496.4,1127) {SNAKE PALLETIZER};

\draw[black,line width=1.6pt] (1016,1027.3) -- (1650,1027.3) (1016,1098.3) -- (1650,1098.3) (1016,1027.3) -- (1016,1153) (1293,1027.3) -- (1293,1098.3);
\node[anchor=west,inner sep=0pt,font=\cadfont\bfseries\fontsize{18}{18}\selectfont] (desc) at (1298.5,1040.7) {\scalebox{0.52}[1]{DESCRIPTION:\ \ LAYOUT LINE CONVERSION 2 OUT}};
\begin{scope}[font=\cadfont\fontsize{11.5}{11.5}\selectfont,text=black!42]
 \node[anchor=west,inner sep=0pt] (dis1) at (1019.4,1107.7) {\scalebox{0.66}[1]{Proprietà e diritti del presente documento sono riservati alla GM Technologies SRL.}};
 \node[anchor=west,inner sep=0pt] (dis2) at (1019.4,1118.3) {\scalebox{0.66}[1]{La riproduzione anche parziale è vietata.}};
 \node[anchor=west,inner sep=0pt] (dis3) at (1019.4,1129.3) {\scalebox{0.66}[1]{Property and rightsof this document are reserved to GM Technologies SRL.}};
 \node[anchor=west,inner sep=0pt] (dis4) at (1019.4,1140) {\scalebox{0.66}[1]{Its reproduction (either in full or in part) is forbidden.}};
\end{scope}
\begin{scope}[shift={(1048.5,1060.5)},x=1pt,y=1pt]
 \foreach \a/\b/\c in {105/150/black!20,50/95/green!45!black,5/45/red!45!black,-45/-3/blue!70!black,-100/-55/black!62,-150/-110/black!50,-205/-160/black!38}{
   \fill[\c] (\a:20pt) arc (\a:\b:20pt) -- (\b:12pt) arc (\b:\a:12pt) -- cycle;}
 \draw[black!80,line width=1.1pt] (78:23.5pt) arc (78:-62:23.5pt);
\end{scope}
\node[anchor=west,inner sep=0pt,font=\logofont\bfseries\fontsize{19}{19}\selectfont,text=black!75] (gm) at (1086,1050.5) {\scalebox{1.5}[1]{GM}};
\node[anchor=west,inner sep=0pt,font=\logolight\fontsize{31}{31}\selectfont,text=black!75] (tech) at (1086,1074) {technologies};
\end{tikzpicture}
\end{document}
